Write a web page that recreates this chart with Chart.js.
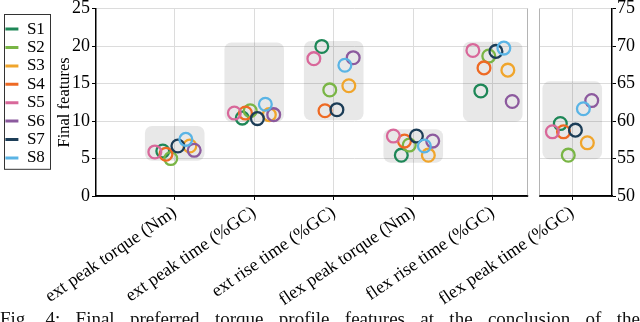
<!DOCTYPE html>
<html>
<head>
<meta charset="utf-8">
<script src="https://cdn.jsdelivr.net/npm/chart.js@4.4.1/dist/chart.umd.min.js"></script>
<style>
  body { margin: 0; width: 640px; height: 322px; overflow: hidden; background: #fff; position: relative; }
  #chart { position: absolute; left: 0; top: 0; }
  #caption { position: absolute; left: 0; top: 309px; width: 640px; font: 19px/19px 'Liberation Serif', serif;
             text-align: justify; text-align-last: justify; color: #111; }
</style>
</head>
<body>
<canvas id="chart" width="640" height="322"></canvas>
<div id="caption">Fig. 4: Final preferred torque profile features at the conclusion of the</div>
<script>
const features = ['ext peak torque (Nm)', 'ext peak time (%GC)', 'ext rise time (%GC)',
                  'flex peak torque (Nm)', 'flex rise time (%GC)', 'flex peak time (%GC)'];
const subjects = ['S1', 'S2', 'S3', 'S4', 'S5', 'S6', 'S7', 'S8'];
const colors = ['#1e8757', '#79b545', '#f0a52c', '#ee6a24', '#d8689a', '#8c5a9e', '#1c3d57', '#5ab4e5'];

// one value per subject, S1..S8
const extPeakTorque = [6.0, 5.0, 6.67, 5.58, 5.88, 6.1, 6.67, 7.56];
const extPeakTime = [10.4, 11.38, 10.86, 11.07, 11.07, 10.86, 10.33, 12.25];
const extRiseTime = [19.96, 14.16, 14.72, 11.38, 18.33, 18.46, 11.52, 17.45];
const flexPeakTorque = [5.45, 6.8, 5.45, 7.33, 8.0, 7.33, 8.0, 6.67];
const flexRiseTime = [14.02, 18.68, 16.8, 17.1, 19.43, 12.61, 19.3, 19.74];
const flexPeakTime = [59.67, 55.45, 57.1, 58.57, 58.57, 62.74, 58.79, 61.65]; // right axis

// horizontal spread of each subject around the feature position
const jitter = [-0.15, -0.05, 0.19, -0.11, -0.25, 0.245, 0.04, 0.14];

// grey ranges behind each feature (last one on right axis)
const boxLow = [4.7, 9.9, 10.1, 4.45, 9.9, 54.9];
const boxHigh = [9.35, 20.5, 20.7, 8.9, 20.6, 65.3];

const leftFeatures = [extPeakTorque, extPeakTime, extRiseTime, flexPeakTorque, flexRiseTime];
const serif = "'Liberation Serif', 'Times New Roman', serif";
const gridColor = '#dcdcdc';
const gapStart = 4.445, gapEnd = 4.585;

const datasets = [];
subjects.forEach((s, k) => {
    datasets.push({
        label: s,
        data: leftFeatures.map((f, i) => ({x: i + jitter[k], y: f[k]})),
        yAxisID: 'y',
        borderColor: colors[k],
        order: subjects.length - k
    });
});
subjects.forEach((s, k) => {
    datasets.push({
        label: s,
        data: [{x: 5 + jitter[k], y: flexPeakTime[k]}],
        yAxisID: 'y2',
        borderColor: colors[k],
        order: subjects.length - k
    });
});

const panels = {
    id: 'panels',
    beforeDatasetsDraw(chart) {
        const {ctx, chartArea: a, scales: {x, y, y2}} = chart;
        ctx.save();
        const g0 = x.getPixelForValue(gapStart), g1 = x.getPixelForValue(gapEnd);
        ctx.fillStyle = '#fff';
        ctx.fillRect(g0, a.top - 3, g1 - g0, a.bottom - a.top + 10);
        ctx.strokeStyle = '#b4b4b4';
        ctx.lineWidth = 1;
        ctx.beginPath();
        ctx.moveTo(Math.round(g0) - 0.5, a.top); ctx.lineTo(Math.round(g0) - 0.5, a.bottom);
        ctx.moveTo(Math.round(g1) + 0.5, a.top); ctx.lineTo(Math.round(g1) + 0.5, a.bottom);
        ctx.stroke();
        ctx.strokeStyle = '#000';
        ctx.lineWidth = 1.5;
        ctx.beginPath();
        ctx.moveTo(a.left, a.bottom); ctx.lineTo(g0, a.bottom);
        ctx.moveTo(g1, a.bottom); ctx.lineTo(a.right, a.bottom);
        ctx.stroke();

        ctx.fillStyle = 'rgba(0,0,0,0.09)';
        boxLow.forEach((lo, i) => {
            const sc = i < 5 ? y : y2;
            const l = x.getPixelForValue(i - 0.375), r = x.getPixelForValue(i + 0.375);
            const t = sc.getPixelForValue(boxHigh[i]), b = sc.getPixelForValue(lo);
            ctx.beginPath();
            ctx.roundRect(l, t, r - l, b - t, 7);
            ctx.fill();
        });
        ctx.restore();
    },
    afterDraw(chart) {
        const hb = chart.legend.legendHitBoxes;
        if (!hb || !hb.length) return;
        const ctx = chart.ctx;
        const last = hb[hb.length - 1];
        ctx.save();
        ctx.strokeStyle = '#333';
        ctx.lineWidth = 1;
        ctx.strokeRect(4.5, Math.round(hb[0].top) - 6.5, 46, last.top + last.height - hb[0].top + 9);
        ctx.restore();
    }
};

const ctx = document.getElementById('chart');
const chart = new Chart(ctx, {
    type: 'scatter',
    data: {datasets: datasets},
    plugins: [panels],
    options: {
        responsive: false,
        animation: false,
        events: [],
        layout: {padding: {top: 6, left: 4, right: 0, bottom: 0}},
        elements: {
            point: {radius: 6.4, borderWidth: 2.3, backgroundColor: 'rgba(0,0,0,0)', pointStyle: 'circle'}
        },
        plugins: {
            tooltip: {enabled: false},
            legend: {
                position: 'left',
                align: 'start',
                title: {display: true, text: '', font: {size: 1}, padding: {top: 12, bottom: 0}},
                labels: {
                    boxWidth: 13,
                    boxHeight: 3,
                    padding: 1.4,
                    color: '#000',
                    font: {family: serif, size: 17},
                    generateLabels: () => subjects.map((s, k) => ({
                        text: s, fillStyle: colors[k], strokeStyle: colors[k], lineWidth: 0,
                        hidden: false, datasetIndex: k, fontColor: '#000'
                    }))
                }
            }
        },
        scales: {
            x: {
                type: 'linear',
                min: -0.99,
                max: 5.5,
                afterBuildTicks: s => { s.ticks = features.map((f, i) => ({value: i})); },
                afterFit: s => { s.height = 126; },
                ticks: {
                    autoSkip: false, minRotation: 34.5, maxRotation: 34.5, padding: 2,
                    color: '#000', font: {family: serif, size: 18},
                    callback: v => features[v]
                },
                grid: {color: gridColor, tickColor: '#000', tickLength: 4},
                border: {color: '#000', width: 1.5}
            },
            y: {
                min: 0,
                max: 25,
                afterFit: s => { s.width = 92 - s.chart.legend.width; s.paddingTop = 0; s.paddingBottom = 0; },
                ticks: {stepSize: 5, padding: 2, color: '#000', font: {family: serif, size: 18}},
                grid: {color: gridColor, tickColor: '#000', tickLength: 4},
                border: {color: '#000', width: 1.5},
                title: {display: true, text: 'Final features', color: '#000',
                        font: {family: serif, size: 16.5}, padding: {top: 0, bottom: 0}}
            },
            y2: {
                position: 'right',
                min: 50,
                max: 75,
                afterFit: s => { s.width = 28; s.paddingTop = 0; s.paddingBottom = 0; },
                ticks: {stepSize: 5, padding: 1, color: '#000', font: {family: serif, size: 18}},
                grid: {drawOnChartArea: false, tickColor: '#000', tickLength: 4},
                border: {color: '#000', width: 1.5}
            }
        }
    }
});
</script>
</body>
</html>
